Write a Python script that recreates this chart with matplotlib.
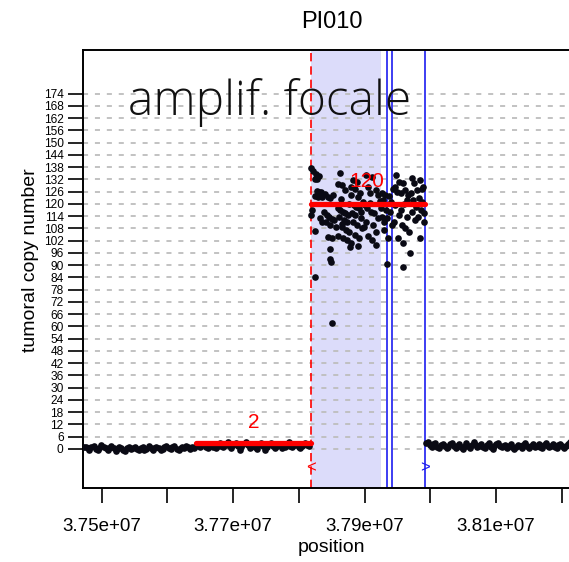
import numpy as np
import matplotlib
matplotlib.use('Agg')
import matplotlib.pyplot as plt

plt.rcParams['font.family'] = ['Liberation Sans', 'DejaVu Sans']

sample_name = 'PI010'

# probe positions in kb, copy number estimates
left_pos = [37473, 37476, 37479, 37481, 37484, 37488, 37491, 37494, 37496, 37499,
            37503, 37506, 37509, 37511, 37514, 37518, 37521, 37523, 37526, 37530,
            37533, 37536, 37538, 37541, 37545, 37548, 37551, 37553, 37556, 37560,
            37563, 37565, 37568, 37572, 37575, 37578, 37580, 37583, 37587, 37590,
            37593, 37595, 37598, 37602, 37605, 37607, 37610, 37614, 37617, 37620,
            37622, 37625, 37629, 37632, 37635, 37637, 37640]
left_cn = [0.8, 1.2, 0.4, -0.3, 0.9, 1.5, 0.2, -0.6, 0.7, 1.8,
           1.1, 0.3, -0.4, 0.6, 1.3, 0.5, -0.8, 0.2, 1.0, 0.4,
           -0.5, -1.1, 0.3, 0.8, -0.2, 0.6, 1.2, 0.1, -0.7, 0.5,
           0.9, -0.3, 0.2, 1.4, 0.7, -0.4, 0.3, 1.1, 0.6, -0.6,
           0.1, 0.9, 1.6, 0.4, -0.2, 0.8, 1.3, 0.2, -0.5, 0.7,
           1.0, 0.3, 1.7, 0.9, 0.2, 1.2, 0.6]

mid_pos = [37644, 37647, 37650, 37652, 37655, 37659, 37662, 37665, 37667, 37670,
           37674, 37677, 37680, 37682, 37685, 37689, 37692, 37695, 37697, 37700,
           37704, 37707, 37710, 37712, 37715, 37719, 37722, 37725, 37727, 37730,
           37734, 37737, 37740, 37742, 37745, 37749, 37752, 37755, 37757, 37760,
           37764, 37767, 37770, 37772, 37775, 37779, 37782, 37785, 37787, 37790,
           37794, 37797, 37800, 37802, 37805, 37809, 37812, 37816]
mid_cn = [1.5, 2.2, 0.9, 1.8, 2.6, 1.2, 0.6, 1.9, 2.4, 1.1,
          0.4, 1.7, 2.9, 1.6, 0.8, 2.1, 3.2, 1.4, 0.7, 2.0,
          2.8, 1.3, -0.4, 1.0, 2.5, 3.6, 1.9, 0.5, 1.6, 2.3,
          1.0, 0.2, 1.8, 2.7, 1.5, -0.6, 0.9, 2.2, 3.0, 1.7,
          0.6, 1.4, 2.6, 1.9, 0.3, 1.2, 2.4, 3.3, 1.6, 0.8,
          1.9, 2.5, 1.1, 0.4, 1.7, 2.8, 2.0, 1.3]

amp_pos = [37819, 37822, 37826, 37831, 37824, 37828, 37827, 37830, 37834, 37825,
           37829, 37835, 37820, 37819, 37833, 37836, 37824, 37824,
           37840, 37844, 37848, 37852, 37839, 37843, 37846, 37850, 37854, 37841,
           37847, 37856, 37845, 37851, 37848, 37847, 37849, 37850,
           37862, 37860, 37866, 37870, 37864, 37859, 37863, 37867, 37871, 37875,
           37861, 37869, 37873, 37865, 37872, 37876, 37860, 37868, 37874, 37878,
           37866, 37877,
           37882, 37888, 37880, 37885, 37893, 37879, 37890, 37884, 37887, 37891,
           37895, 37881, 37886, 37894, 37883, 37889, 37896, 37885, 37892, 37880,
           37890, 37897,
           37902, 37912, 37905, 37918, 37908, 37921, 37900, 37904, 37910, 37915,
           37920, 37903, 37913, 37917, 37906, 37911, 37917, 37923, 37899, 37909,
           37926, 37931, 37937, 37928, 37941, 37925, 37933, 37939, 37927, 37935,
           37930, 37942, 37936, 37934, 37929, 37943,
           37948, 37952, 37958, 37946, 37962, 37950, 37955, 37966, 37947, 37960,
           37953, 37964, 37945, 37957, 37961, 37968, 37951, 37959, 37969, 37959,
           37956, 37965,
           37972, 37985, 37976, 37989, 37980, 37971, 37983, 37974, 37988, 37978,
           37986, 37973, 37990, 37981, 37977, 37991, 37984, 37987]
amp_cn = [137.4, 136.0, 134.8, 133.5, 132.3, 132.0, 126.5, 126.0, 125.8, 124.0,
          123.6, 123.4, 117.0, 114.6, 113.0, 111.2, 106.9, 84.4,
          124.8, 123.5, 123.0, 124.2, 116.0, 114.5, 113.6, 112.8, 112.0, 111.0,
          109.7, 108.8, 103.6, 103.1, 97.8, 93.0, 91.7, 61.9,
          135.0, 130.0, 129.2, 127.0, 122.2, 117.8, 117.0, 116.2, 115.4, 114.6,
          113.8, 112.0, 111.3, 108.9, 107.2, 106.4, 104.3, 103.1, 102.3, 98.7,
          110.0, 119.8,
          131.7, 130.9, 128.4, 127.1, 125.5, 124.4, 123.6, 119.5, 118.7, 117.8,
          116.2, 115.4, 114.6, 113.0, 111.3, 109.7, 108.0, 104.8, 103.1, 100.7,
          99.4, 121.0,
          134.2, 133.3, 128.4, 126.8, 125.2, 124.4, 119.5, 117.8, 116.2, 115.4,
          113.0, 111.3, 109.7, 106.4, 104.3, 102.3, 99.9, 121.5, 108.5, 120.6,
          125.2, 124.4, 123.9, 121.9, 121.1, 117.8, 117.0, 116.2, 113.8, 113.0,
          111.3, 109.7, 103.1, 90.6, 107.5, 127.5,
          134.2, 130.9, 130.1, 128.4, 126.8, 126.0, 125.2, 124.4, 119.5, 120.2,
          114.6, 113.8, 111.3, 109.7, 108.0, 106.4, 103.1, 100.7, 95.8, 89.3,
          117.0, 122.0,
          132.5, 131.7, 130.1, 128.4, 126.8, 125.2, 122.7, 121.9, 121.1, 118.7,
          117.0, 116.2, 115.4, 113.8, 112.1, 111.3, 103.1, 127.5]

right_pos = [37994, 37997, 37999, 38002, 38005, 38008, 38011, 38013, 38016, 38019,
             38022, 38025, 38027, 38030, 38033, 38036, 38039, 38041, 38044, 38047,
             38050, 38053, 38055, 38058, 38061, 38064, 38067, 38069, 38072, 38075,
             38078, 38081, 38083, 38086, 38089, 38092, 38095, 38097, 38100, 38103,
             38106, 38109, 38111, 38114, 38117, 38120, 38123, 38125, 38128, 38131,
             38134, 38137, 38139, 38142, 38145, 38148, 38151, 38153, 38156, 38159,
             38162, 38165, 38167, 38170, 38173, 38176, 38179, 38181, 38184, 38187,
             38190, 38193, 38195, 38198, 38201, 38204, 38207, 38210, 38213, 38216]
right_cn = [2.8, 3.5, 1.9, 0.8, 2.4, 3.1, 1.2, 0.5, 1.8, 2.6,
            1.4, 0.3, 1.1, 2.2, 2.9, 1.6, 0.7, 1.3, 2.5, 1.0,
            0.2, 1.7, 2.8, 1.5, 0.6, 1.9, 3.3, 2.1, 0.9, 1.4,
            2.3, 1.1, 0.4, 1.8, 2.7, 1.2, 0.1, 1.5, 2.4, 3.0,
            1.7, 0.8, 1.3, 2.0, 0.5, 1.6, 2.6, 1.0, -0.2, 1.2,
            2.1, 1.4, 0.6, 1.9, 2.8, 1.3, 0.7, 1.7, 2.3, 0.9,
            1.5, 2.5, 1.1, 0.3, 1.8, 2.9, 1.6, 0.8, 1.4, 2.2,
            1.0, 0.4, 1.9, 2.6, 1.3, 0.6, 1.5, 2.4, 3.2, 1.1]

# segments: start kb, end kb, level, label
segments = [(37643.5, 37818.5, 2.7, '2'), (37818.5, 37992.5, 120.0, '120')]
seg_label_pos = [(37731.8, 12.9), (37903.8, 131.0)]

breakpoint_left = 37818.5
shade_end = 37925.1
blue_lines = [37934.6, 37941.3, 37992.5]

y_ticks = list(range(0, 175, 6))
x_ticks = [37500, 37600, 37700, 37800, 37900, 38000, 38100, 38200]
x_tick_labels = ['3.75e+07', '', '3.77e+07', '', '3.79e+07', '', '3.81e+07', '']

kb = 1000.

fig = plt.figure(figsize=(5.69, 5.62), dpi=100)
ax = fig.add_axes([0.1459, 0.1317, 0.875, 0.780])

ax.axvspan(breakpoint_left * kb, shade_end * kb, color='#dcdcfa', lw=0, zorder=0)
for t in y_ticks:
    ax.axhline(t, color='#bdbdbd', lw=1.3, ls=(0, (2.8, 3.8)), zorder=1)

ax.axvline(breakpoint_left * kb, color='red', lw=1.2, ls=(0, (5, 3)), zorder=2)
for b in blue_lines:
    ax.axvline(b * kb, color='#1c1cf0', lw=1.2, zorder=2)

for pos, cn in [(left_pos, left_cn), (mid_pos, mid_cn), (amp_pos, amp_cn), (right_pos, right_cn)]:
    ax.plot(np.array(pos) * kb, cn, 'o', color='#0a0a14', markersize=4.8,
            markeredgewidth=0, zorder=3)

for (s, e, level, lab), (lx, ly) in zip(segments, seg_label_pos):
    ax.plot([s * kb, e * kb], [level, level], color='red', lw=3.8,
            solid_capstyle='round', zorder=4)
    ax.text(lx * kb, ly, lab, color='red', fontsize=15, ha='center', va='center', zorder=5)

ax.text(breakpoint_left * kb, -9.3, '<', color='red', fontsize=12, ha='center', va='center')
ax.text(blue_lines[-1] * kb, -9.3, '>', color='#1c1cf0', fontsize=12, ha='center', va='center')

ax.text(37540 * kb, 169.5, 'amplif. focale', fontsize=34.5, ha='left', va='center',
        family=['Open Sans', 'DejaVu Sans'], fontweight='light', color='#111111', zorder=6)

ax.set_xlim(37471.5 * kb, 38229.4 * kb)
ax.set_ylim(-19.1, 195.6)

ax.set_yticks(y_ticks)
ax.set_yticklabels([str(t) for t in y_ticks], fontsize=8.6)
ax.set_xticks([x * kb for x in x_ticks])
ax.set_xticklabels(x_tick_labels, fontsize=13.5)
ax.tick_params(axis='y', length=11, width=1.2, pad=3)
ax.tick_params(axis='x', length=10.5, width=1.2, pad=11)

for side in ['left', 'bottom', 'top']:
    ax.spines[side].set_linewidth(1.4)
ax.spines['right'].set_visible(False)

fig.text(0.583, 0.961, sample_name, fontsize=17, ha='center', va='center')
fig.text(0.583, 0.025, 'position', fontsize=14, ha='center', va='center')
fig.text(0.053, 0.537, 'tumoral copy number', fontsize=14, ha='center', va='center',
         rotation=90)

plt.savefig('out.png', dpi=100)
